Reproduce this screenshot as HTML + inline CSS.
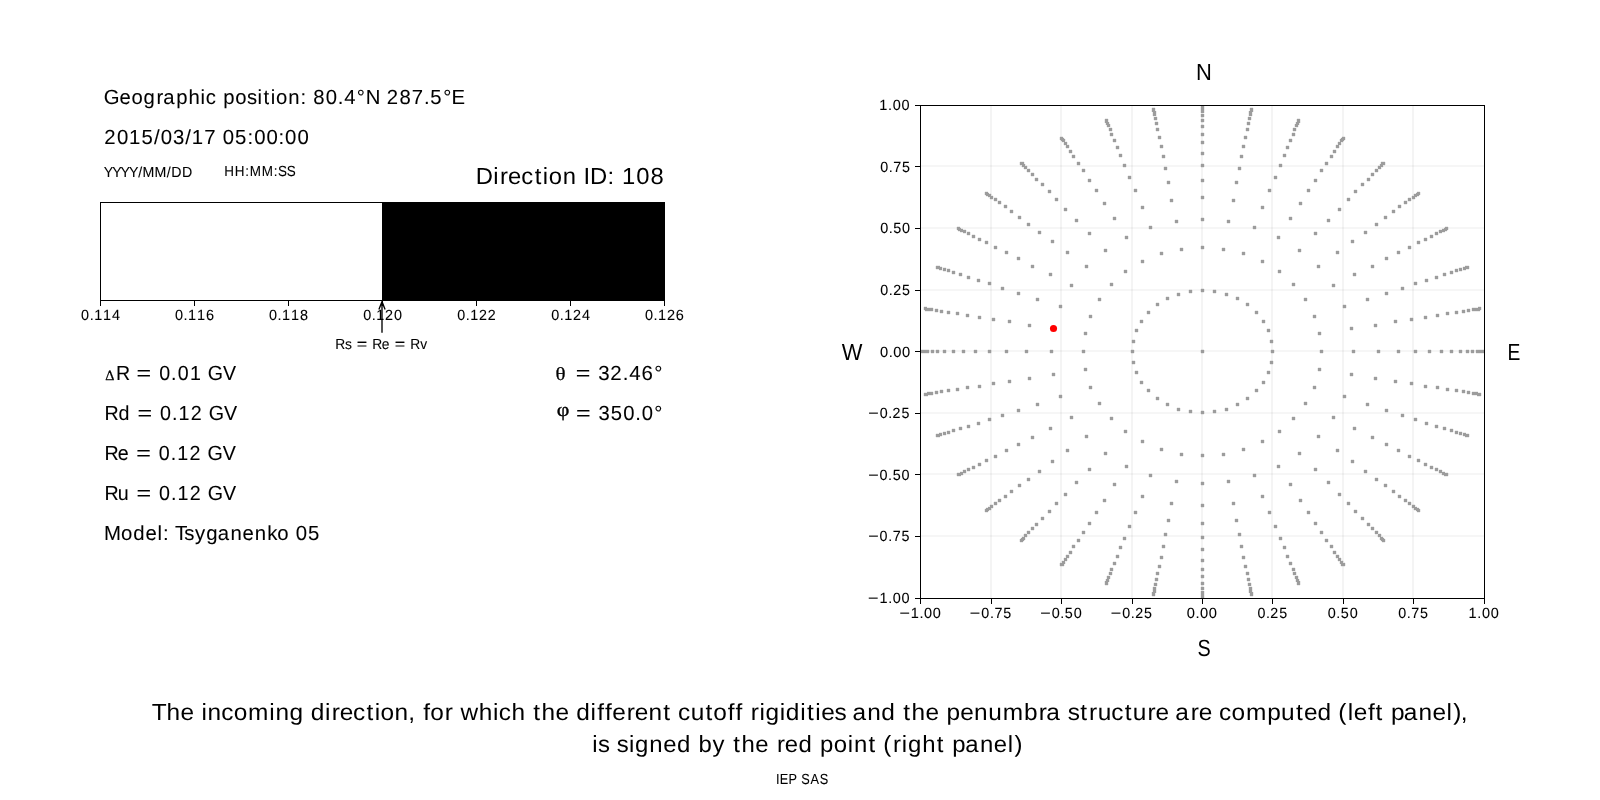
<!DOCTYPE html>
<html><head><meta charset="utf-8"><title>Direction 108</title>
<style>
html,body{margin:0;padding:0;background:#fff;overflow:hidden}
svg{display:block;will-change:transform}
text{font-family:"Liberation Sans",sans-serif;fill:#000;white-space:pre;text-rendering:geometricPrecision}
.ser{font-family:"Liberation Serif",serif}
</style></head><body>
<svg width="1600" height="800" viewBox="0 0 1600 800">
<rect width="1600" height="800" fill="#fff"/>
<g shape-rendering="crispEdges">
<rect x="382" y="202" width="283" height="99" fill="#000"/>
<path d="M100 202h565v1h-565zM100 300h565v1h-565zM100 202h1v99h-1zM664 202h1v99h-1z" fill="#000"/>
<path d="M100 301h1v5h-1zM194 301h1v5h-1zM288 301h1v5h-1zM382 301h1v5h-1zM476 301h1v5h-1zM570 301h1v5h-1zM664 301h1v5h-1z" fill="#000"/>
</g>
<path d="M382 332.7V302.2M378.9 309.6L382 301.7L385.1 309.6" fill="none" stroke="#000" stroke-width="1.35"/>
<g shape-rendering="crispEdges">
<path d="M990 105h2v493h-2zM1060 105h2v493h-2zM1131 105h2v493h-2zM1201 105h2v493h-2zM1271 105h2v493h-2zM1342 105h2v493h-2zM1412 105h2v493h-2z" fill="#000" fill-opacity="0.042"/>
<path d="M920 535h564v2h-564zM920 473h564v2h-564zM920 412h564v2h-564zM920 350h564v2h-564zM920 289h564v2h-564zM920 227h564v2h-564zM920 165h564v2h-564z" fill="#000" fill-opacity="0.035"/>
<clipPath id="c"><rect x="920" y="105" width="565" height="494"/></clipPath>
<g clip-path="url(#c)"><path d="M919 349h3v5h-3zM918 350h5v3h-5zM920 349h3v5h-3zM919 350h5v3h-5zM923 349h3v5h-3zM922 350h5v3h-5zM924 306h3v5h-3zM923 307h5v3h-5zM924 392h3v5h-3zM923 393h5v3h-5zM925 307h3v5h-3zM924 308h5v3h-5zM925 392h3v5h-3zM924 393h5v3h-5zM926 349h3v5h-3zM925 350h5v3h-5zM927 307h3v5h-3zM926 308h5v3h-5zM927 391h3v5h-3zM926 392h5v3h-5zM930 307h3v5h-3zM929 308h5v3h-5zM930 391h3v5h-3zM929 392h5v3h-5zM931 349h3v5h-3zM930 350h5v3h-5zM935 308h3v5h-3zM934 309h5v3h-5zM935 390h3v5h-3zM934 391h5v3h-5zM936 265h3v5h-3zM935 266h5v3h-5zM936 349h3v5h-3zM935 350h5v3h-5zM936 433h3v5h-3zM935 434h5v3h-5zM937 265h3v5h-3zM936 266h5v3h-5zM937 433h3v5h-3zM936 434h5v3h-5zM939 266h3v5h-3zM938 267h5v3h-5zM939 432h3v5h-3zM938 433h5v3h-5zM940 309h3v5h-3zM939 310h5v3h-5zM940 389h3v5h-3zM939 390h5v3h-5zM943 267h3v5h-3zM942 268h5v3h-5zM943 349h3v5h-3zM942 350h5v3h-5zM943 431h3v5h-3zM942 432h5v3h-5zM947 268h3v5h-3zM946 269h5v3h-5zM947 310h3v5h-3zM946 311h5v3h-5zM947 388h3v5h-3zM946 389h5v3h-5zM947 430h3v5h-3zM946 431h5v3h-5zM952 270h3v5h-3zM951 271h5v3h-5zM952 349h3v5h-3zM951 350h5v3h-5zM952 428h3v5h-3zM951 429h5v3h-5zM956 311h3v5h-3zM955 312h5v3h-5zM956 387h3v5h-3zM955 388h5v3h-5zM957 226h3v5h-3zM956 227h5v3h-5zM957 472h3v5h-3zM956 473h5v3h-5zM958 227h3v5h-3zM957 228h5v3h-5zM958 472h3v5h-3zM957 473h5v3h-5zM959 272h3v5h-3zM958 273h5v3h-5zM959 426h3v5h-3zM958 427h5v3h-5zM960 228h3v5h-3zM959 229h5v3h-5zM960 471h3v5h-3zM959 472h5v3h-5zM962 349h3v5h-3zM961 350h5v3h-5zM963 229h3v5h-3zM962 230h5v3h-5zM963 469h3v5h-3zM962 470h5v3h-5zM966 313h3v5h-3zM965 314h5v3h-5zM966 385h3v5h-3zM965 386h5v3h-5zM967 231h3v5h-3zM966 232h5v3h-5zM967 275h3v5h-3zM966 276h5v3h-5zM967 424h3v5h-3zM966 425h5v3h-5zM967 467h3v5h-3zM966 468h5v3h-5zM972 234h3v5h-3zM971 235h5v3h-5zM972 465h3v5h-3zM971 466h5v3h-5zM974 349h3v5h-3zM973 350h5v3h-5zM977 278h3v5h-3zM976 279h5v3h-5zM977 421h3v5h-3zM976 422h5v3h-5zM978 237h3v5h-3zM977 238h5v3h-5zM978 315h3v5h-3zM977 316h5v3h-5zM978 384h3v5h-3zM977 385h5v3h-5zM978 462h3v5h-3zM977 463h5v3h-5zM985 191h3v5h-3zM984 192h5v3h-5zM985 240h3v5h-3zM984 241h5v3h-5zM985 458h3v5h-3zM984 459h5v3h-5zM985 508h3v5h-3zM984 509h5v3h-5zM986 192h3v5h-3zM985 193h5v3h-5zM986 507h3v5h-3zM985 508h5v3h-5zM988 193h3v5h-3zM987 194h5v3h-5zM988 281h3v5h-3zM987 282h5v3h-5zM988 349h3v5h-3zM987 350h5v3h-5zM988 417h3v5h-3zM987 418h5v3h-5zM988 506h3v5h-3zM987 507h5v3h-5zM990 195h3v5h-3zM989 196h5v3h-5zM990 504h3v5h-3zM989 505h5v3h-5zM992 317h3v5h-3zM991 318h5v3h-5zM992 381h3v5h-3zM991 382h5v3h-5zM994 197h3v5h-3zM993 198h5v3h-5zM994 245h3v5h-3zM993 246h5v3h-5zM994 454h3v5h-3zM993 455h5v3h-5zM994 501h3v5h-3zM993 502h5v3h-5zM998 200h3v5h-3zM997 201h5v3h-5zM998 498h3v5h-3zM997 499h5v3h-5zM1001 286h3v5h-3zM1000 287h5v3h-5zM1001 413h3v5h-3zM1000 414h5v3h-5zM1004 204h3v5h-3zM1003 205h5v3h-5zM1004 494h3v5h-3zM1003 495h5v3h-5zM1005 250h3v5h-3zM1004 251h5v3h-5zM1005 349h3v5h-3zM1004 350h5v3h-5zM1005 448h3v5h-3zM1004 449h5v3h-5zM1008 319h3v5h-3zM1007 320h5v3h-5zM1008 379h3v5h-3zM1007 380h5v3h-5zM1010 209h3v5h-3zM1009 210h5v3h-5zM1010 489h3v5h-3zM1009 490h5v3h-5zM1017 256h3v5h-3zM1016 257h5v3h-5zM1017 291h3v5h-3zM1016 292h5v3h-5zM1017 408h3v5h-3zM1016 409h5v3h-5zM1017 442h3v5h-3zM1016 443h5v3h-5zM1018 215h3v5h-3zM1017 216h5v3h-5zM1018 483h3v5h-3zM1017 484h5v3h-5zM1020 161h3v5h-3zM1019 162h5v3h-5zM1020 538h3v5h-3zM1019 539h5v3h-5zM1021 161h3v5h-3zM1020 162h5v3h-5zM1021 537h3v5h-3zM1020 538h5v3h-5zM1022 163h3v5h-3zM1021 164h5v3h-5zM1022 536h3v5h-3zM1021 537h5v3h-5zM1024 165h3v5h-3zM1023 166h5v3h-5zM1024 533h3v5h-3zM1023 534h5v3h-5zM1025 349h3v5h-3zM1024 350h5v3h-5zM1027 168h3v5h-3zM1026 169h5v3h-5zM1027 222h3v5h-3zM1026 223h5v3h-5zM1027 477h3v5h-3zM1026 478h5v3h-5zM1027 530h3v5h-3zM1026 531h5v3h-5zM1028 323h3v5h-3zM1027 324h5v3h-5zM1028 376h3v5h-3zM1027 377h5v3h-5zM1031 172h3v5h-3zM1030 173h5v3h-5zM1031 264h3v5h-3zM1030 265h5v3h-5zM1031 435h3v5h-3zM1030 436h5v3h-5zM1031 526h3v5h-3zM1030 527h5v3h-5zM1035 177h3v5h-3zM1034 178h5v3h-5zM1035 522h3v5h-3zM1034 523h5v3h-5zM1036 297h3v5h-3zM1035 298h5v3h-5zM1036 402h3v5h-3zM1035 403h5v3h-5zM1038 230h3v5h-3zM1037 231h5v3h-5zM1038 469h3v5h-3zM1037 470h5v3h-5zM1041 182h3v5h-3zM1040 183h5v3h-5zM1041 516h3v5h-3zM1040 517h5v3h-5zM1048 189h3v5h-3zM1047 190h5v3h-5zM1048 509h3v5h-3zM1047 510h5v3h-5zM1049 272h3v5h-3zM1048 273h5v3h-5zM1049 426h3v5h-3zM1048 427h5v3h-5zM1050 349h3v5h-3zM1049 350h5v3h-5zM1051 239h3v5h-3zM1050 240h5v3h-5zM1051 459h3v5h-3zM1050 460h5v3h-5zM1052 326h3v5h-3zM1051 327h5v3h-5zM1052 372h3v5h-3zM1051 373h5v3h-5zM1055 197h3v5h-3zM1054 198h5v3h-5zM1055 501h3v5h-3zM1054 502h5v3h-5zM1059 304h3v5h-3zM1058 305h5v3h-5zM1059 394h3v5h-3zM1058 395h5v3h-5zM1060 136h3v5h-3zM1059 137h5v3h-5zM1060 562h3v5h-3zM1059 563h5v3h-5zM1061 137h3v5h-3zM1060 138h5v3h-5zM1061 562h3v5h-3zM1060 563h5v3h-5zM1062 138h3v5h-3zM1061 139h5v3h-5zM1062 560h3v5h-3zM1061 561h5v3h-5zM1064 141h3v5h-3zM1063 142h5v3h-5zM1064 207h3v5h-3zM1063 208h5v3h-5zM1064 492h3v5h-3zM1063 493h5v3h-5zM1064 557h3v5h-3zM1063 558h5v3h-5zM1066 144h3v5h-3zM1065 145h5v3h-5zM1066 250h3v5h-3zM1065 251h5v3h-5zM1066 448h3v5h-3zM1065 449h5v3h-5zM1066 554h3v5h-3zM1065 555h5v3h-5zM1069 149h3v5h-3zM1068 150h5v3h-5zM1069 550h3v5h-3zM1068 551h5v3h-5zM1070 283h3v5h-3zM1069 284h5v3h-5zM1070 415h3v5h-3zM1069 416h5v3h-5zM1072 154h3v5h-3zM1071 155h5v3h-5zM1072 544h3v5h-3zM1071 545h5v3h-5zM1075 218h3v5h-3zM1074 219h5v3h-5zM1075 480h3v5h-3zM1074 481h5v3h-5zM1077 161h3v5h-3zM1076 162h5v3h-5zM1077 538h3v5h-3zM1076 539h5v3h-5zM1082 168h3v5h-3zM1081 169h5v3h-5zM1082 349h3v5h-3zM1081 350h5v3h-5zM1082 530h3v5h-3zM1081 531h5v3h-5zM1084 331h3v5h-3zM1083 332h5v3h-5zM1084 367h3v5h-3zM1083 368h5v3h-5zM1085 264h3v5h-3zM1084 265h5v3h-5zM1085 434h3v5h-3zM1084 435h5v3h-5zM1088 178h3v5h-3zM1087 179h5v3h-5zM1088 231h3v5h-3zM1087 232h5v3h-5zM1088 467h3v5h-3zM1087 468h5v3h-5zM1088 521h3v5h-3zM1087 522h5v3h-5zM1089 314h3v5h-3zM1088 315h5v3h-5zM1089 385h3v5h-3zM1088 386h5v3h-5zM1095 188h3v5h-3zM1094 189h5v3h-5zM1095 510h3v5h-3zM1094 511h5v3h-5zM1098 297h3v5h-3zM1097 298h5v3h-5zM1098 401h3v5h-3zM1097 402h5v3h-5zM1103 201h3v5h-3zM1102 202h5v3h-5zM1103 498h3v5h-3zM1102 499h5v3h-5zM1104 248h3v5h-3zM1103 249h5v3h-5zM1104 451h3v5h-3zM1103 452h5v3h-5zM1105 118h3v5h-3zM1104 119h5v3h-5zM1105 119h3v5h-3zM1104 120h5v3h-5zM1105 580h3v5h-3zM1104 581h5v3h-5zM1105 581h3v5h-3zM1104 582h5v3h-5zM1106 121h3v5h-3zM1105 122h5v3h-5zM1106 578h3v5h-3zM1105 579h5v3h-5zM1107 123h3v5h-3zM1106 124h5v3h-5zM1107 575h3v5h-3zM1106 576h5v3h-5zM1109 127h3v5h-3zM1108 128h5v3h-5zM1109 571h3v5h-3zM1108 572h5v3h-5zM1110 132h3v5h-3zM1109 133h5v3h-5zM1110 282h3v5h-3zM1109 283h5v3h-5zM1110 416h3v5h-3zM1109 417h5v3h-5zM1110 567h3v5h-3zM1109 568h5v3h-5zM1113 138h3v5h-3zM1112 139h5v3h-5zM1113 216h3v5h-3zM1112 217h5v3h-5zM1113 482h3v5h-3zM1112 483h5v3h-5zM1113 561h3v5h-3zM1112 562h5v3h-5zM1116 145h3v5h-3zM1115 146h5v3h-5zM1116 554h3v5h-3zM1115 555h5v3h-5zM1119 153h3v5h-3zM1118 154h5v3h-5zM1119 545h3v5h-3zM1118 546h5v3h-5zM1123 163h3v5h-3zM1122 164h5v3h-5zM1123 536h3v5h-3zM1122 537h5v3h-5zM1124 269h3v5h-3zM1123 270h5v3h-5zM1124 429h3v5h-3zM1123 430h5v3h-5zM1125 235h3v5h-3zM1124 236h5v3h-5zM1125 464h3v5h-3zM1124 465h5v3h-5zM1128 175h3v5h-3zM1127 176h5v3h-5zM1128 524h3v5h-3zM1127 525h5v3h-5zM1131 349h3v5h-3zM1130 350h5v3h-5zM1132 339h3v5h-3zM1131 340h5v3h-5zM1132 360h3v5h-3zM1131 361h5v3h-5zM1134 188h3v5h-3zM1133 189h5v3h-5zM1134 510h3v5h-3zM1133 511h5v3h-5zM1135 328h3v5h-3zM1134 329h5v3h-5zM1135 370h3v5h-3zM1134 371h5v3h-5zM1140 319h3v5h-3zM1139 320h5v3h-5zM1140 380h3v5h-3zM1139 381h5v3h-5zM1141 205h3v5h-3zM1140 206h5v3h-5zM1141 259h3v5h-3zM1140 260h5v3h-5zM1141 439h3v5h-3zM1140 440h5v3h-5zM1141 494h3v5h-3zM1140 495h5v3h-5zM1147 310h3v5h-3zM1146 311h5v3h-5zM1147 388h3v5h-3zM1146 389h5v3h-5zM1149 225h3v5h-3zM1148 226h5v3h-5zM1149 473h3v5h-3zM1148 474h5v3h-5zM1152 107h3v5h-3zM1151 108h5v3h-5zM1152 108h3v5h-3zM1151 109h5v3h-5zM1152 591h3v5h-3zM1151 592h5v3h-5zM1152 592h3v5h-3zM1151 593h5v3h-5zM1153 110h3v5h-3zM1152 111h5v3h-5zM1153 112h3v5h-3zM1152 113h5v3h-5zM1153 586h3v5h-3zM1152 587h5v3h-5zM1153 589h3v5h-3zM1152 590h5v3h-5zM1154 116h3v5h-3zM1153 117h5v3h-5zM1154 582h3v5h-3zM1153 583h5v3h-5zM1155 121h3v5h-3zM1154 122h5v3h-5zM1155 577h3v5h-3zM1154 578h5v3h-5zM1156 127h3v5h-3zM1155 128h5v3h-5zM1156 302h3v5h-3zM1155 303h5v3h-5zM1156 396h3v5h-3zM1155 397h5v3h-5zM1156 571h3v5h-3zM1155 572h5v3h-5zM1158 135h3v5h-3zM1157 136h5v3h-5zM1158 564h3v5h-3zM1157 565h5v3h-5zM1160 144h3v5h-3zM1159 145h5v3h-5zM1160 251h3v5h-3zM1159 252h5v3h-5zM1160 447h3v5h-3zM1159 448h5v3h-5zM1160 555h3v5h-3zM1159 556h5v3h-5zM1162 154h3v5h-3zM1161 155h5v3h-5zM1162 544h3v5h-3zM1161 545h5v3h-5zM1164 166h3v5h-3zM1163 167h5v3h-5zM1164 532h3v5h-3zM1163 533h5v3h-5zM1166 296h3v5h-3zM1165 297h5v3h-5zM1166 402h3v5h-3zM1165 403h5v3h-5zM1167 180h3v5h-3zM1166 181h5v3h-5zM1167 518h3v5h-3zM1166 519h5v3h-5zM1170 198h3v5h-3zM1169 199h5v3h-5zM1170 501h3v5h-3zM1169 502h5v3h-5zM1175 219h3v5h-3zM1174 220h5v3h-5zM1175 479h3v5h-3zM1174 480h5v3h-5zM1177 292h3v5h-3zM1176 293h5v3h-5zM1177 407h3v5h-3zM1176 408h5v3h-5zM1180 247h3v5h-3zM1179 248h5v3h-5zM1180 452h3v5h-3zM1179 453h5v3h-5zM1189 289h3v5h-3zM1188 290h5v3h-5zM1189 409h3v5h-3zM1188 410h5v3h-5zM1201 103h3v5h-3zM1200 104h5v3h-5zM1201 104h3v5h-3zM1200 105h5v3h-5zM1201 106h3v5h-3zM1200 107h5v3h-5zM1201 109h3v5h-3zM1200 110h5v3h-5zM1201 113h3v5h-3zM1200 114h5v3h-5zM1201 118h3v5h-3zM1200 119h5v3h-5zM1201 124h3v5h-3zM1200 125h5v3h-5zM1201 132h3v5h-3zM1200 133h5v3h-5zM1201 140h3v5h-3zM1200 141h5v3h-5zM1201 151h3v5h-3zM1200 152h5v3h-5zM1201 163h3v5h-3zM1200 164h5v3h-5zM1201 178h3v5h-3zM1200 179h5v3h-5zM1201 195h3v5h-3zM1200 196h5v3h-5zM1201 217h3v5h-3zM1200 218h5v3h-5zM1201 245h3v5h-3zM1200 246h5v3h-5zM1201 288h3v5h-3zM1200 289h5v3h-5zM1201 349h3v5h-3zM1200 350h5v3h-5zM1201 410h3v5h-3zM1200 411h5v3h-5zM1201 453h3v5h-3zM1200 454h5v3h-5zM1201 481h3v5h-3zM1200 482h5v3h-5zM1201 503h3v5h-3zM1200 504h5v3h-5zM1201 521h3v5h-3zM1200 522h5v3h-5zM1201 535h3v5h-3zM1200 536h5v3h-5zM1201 547h3v5h-3zM1200 548h5v3h-5zM1201 558h3v5h-3zM1200 559h5v3h-5zM1201 567h3v5h-3zM1200 568h5v3h-5zM1201 574h3v5h-3zM1200 575h5v3h-5zM1201 581h3v5h-3zM1200 582h5v3h-5zM1201 586h3v5h-3zM1200 587h5v3h-5zM1201 590h3v5h-3zM1200 591h5v3h-5zM1201 593h3v5h-3zM1200 594h5v3h-5zM1201 595h3v5h-3zM1200 596h5v3h-5zM1213 289h3v5h-3zM1212 290h5v3h-5zM1213 409h3v5h-3zM1212 410h5v3h-5zM1222 247h3v5h-3zM1221 248h5v3h-5zM1222 452h3v5h-3zM1221 453h5v3h-5zM1225 292h3v5h-3zM1224 293h5v3h-5zM1225 407h3v5h-3zM1224 408h5v3h-5zM1227 219h3v5h-3zM1226 220h5v3h-5zM1227 479h3v5h-3zM1226 480h5v3h-5zM1232 198h3v5h-3zM1231 199h5v3h-5zM1232 501h3v5h-3zM1231 502h5v3h-5zM1235 180h3v5h-3zM1234 181h5v3h-5zM1235 518h3v5h-3zM1234 519h5v3h-5zM1236 296h3v5h-3zM1235 297h5v3h-5zM1236 402h3v5h-3zM1235 403h5v3h-5zM1238 166h3v5h-3zM1237 167h5v3h-5zM1238 532h3v5h-3zM1237 533h5v3h-5zM1240 154h3v5h-3zM1239 155h5v3h-5zM1240 544h3v5h-3zM1239 545h5v3h-5zM1242 144h3v5h-3zM1241 145h5v3h-5zM1242 251h3v5h-3zM1241 252h5v3h-5zM1242 447h3v5h-3zM1241 448h5v3h-5zM1242 555h3v5h-3zM1241 556h5v3h-5zM1244 135h3v5h-3zM1243 136h5v3h-5zM1244 564h3v5h-3zM1243 565h5v3h-5zM1246 127h3v5h-3zM1245 128h5v3h-5zM1246 302h3v5h-3zM1245 303h5v3h-5zM1246 396h3v5h-3zM1245 397h5v3h-5zM1246 571h3v5h-3zM1245 572h5v3h-5zM1247 121h3v5h-3zM1246 122h5v3h-5zM1247 577h3v5h-3zM1246 578h5v3h-5zM1248 116h3v5h-3zM1247 117h5v3h-5zM1248 582h3v5h-3zM1247 583h5v3h-5zM1249 110h3v5h-3zM1248 111h5v3h-5zM1249 112h3v5h-3zM1248 113h5v3h-5zM1249 586h3v5h-3zM1248 587h5v3h-5zM1249 589h3v5h-3zM1248 590h5v3h-5zM1250 107h3v5h-3zM1249 108h5v3h-5zM1250 108h3v5h-3zM1249 109h5v3h-5zM1250 591h3v5h-3zM1249 592h5v3h-5zM1250 592h3v5h-3zM1249 593h5v3h-5zM1253 225h3v5h-3zM1252 226h5v3h-5zM1253 473h3v5h-3zM1252 474h5v3h-5zM1255 310h3v5h-3zM1254 311h5v3h-5zM1255 388h3v5h-3zM1254 389h5v3h-5zM1261 205h3v5h-3zM1260 206h5v3h-5zM1261 259h3v5h-3zM1260 260h5v3h-5zM1261 439h3v5h-3zM1260 440h5v3h-5zM1261 494h3v5h-3zM1260 495h5v3h-5zM1262 319h3v5h-3zM1261 320h5v3h-5zM1262 380h3v5h-3zM1261 381h5v3h-5zM1267 328h3v5h-3zM1266 329h5v3h-5zM1267 370h3v5h-3zM1266 371h5v3h-5zM1268 188h3v5h-3zM1267 189h5v3h-5zM1268 510h3v5h-3zM1267 511h5v3h-5zM1270 339h3v5h-3zM1269 340h5v3h-5zM1270 360h3v5h-3zM1269 361h5v3h-5zM1271 349h3v5h-3zM1270 350h5v3h-5zM1274 175h3v5h-3zM1273 176h5v3h-5zM1274 524h3v5h-3zM1273 525h5v3h-5zM1277 235h3v5h-3zM1276 236h5v3h-5zM1277 464h3v5h-3zM1276 465h5v3h-5zM1278 269h3v5h-3zM1277 270h5v3h-5zM1278 429h3v5h-3zM1277 430h5v3h-5zM1279 163h3v5h-3zM1278 164h5v3h-5zM1279 536h3v5h-3zM1278 537h5v3h-5zM1283 153h3v5h-3zM1282 154h5v3h-5zM1283 545h3v5h-3zM1282 546h5v3h-5zM1286 145h3v5h-3zM1285 146h5v3h-5zM1286 554h3v5h-3zM1285 555h5v3h-5zM1289 138h3v5h-3zM1288 139h5v3h-5zM1289 216h3v5h-3zM1288 217h5v3h-5zM1289 482h3v5h-3zM1288 483h5v3h-5zM1289 561h3v5h-3zM1288 562h5v3h-5zM1292 132h3v5h-3zM1291 133h5v3h-5zM1292 282h3v5h-3zM1291 283h5v3h-5zM1292 416h3v5h-3zM1291 417h5v3h-5zM1292 567h3v5h-3zM1291 568h5v3h-5zM1293 127h3v5h-3zM1292 128h5v3h-5zM1293 571h3v5h-3zM1292 572h5v3h-5zM1295 123h3v5h-3zM1294 124h5v3h-5zM1295 575h3v5h-3zM1294 576h5v3h-5zM1296 121h3v5h-3zM1295 122h5v3h-5zM1296 578h3v5h-3zM1295 579h5v3h-5zM1297 118h3v5h-3zM1296 119h5v3h-5zM1297 119h3v5h-3zM1296 120h5v3h-5zM1297 580h3v5h-3zM1296 581h5v3h-5zM1297 581h3v5h-3zM1296 582h5v3h-5zM1298 248h3v5h-3zM1297 249h5v3h-5zM1298 451h3v5h-3zM1297 452h5v3h-5zM1299 201h3v5h-3zM1298 202h5v3h-5zM1299 498h3v5h-3zM1298 499h5v3h-5zM1304 297h3v5h-3zM1303 298h5v3h-5zM1304 401h3v5h-3zM1303 402h5v3h-5zM1307 188h3v5h-3zM1306 189h5v3h-5zM1307 510h3v5h-3zM1306 511h5v3h-5zM1313 314h3v5h-3zM1312 315h5v3h-5zM1313 385h3v5h-3zM1312 386h5v3h-5zM1314 178h3v5h-3zM1313 179h5v3h-5zM1314 231h3v5h-3zM1313 232h5v3h-5zM1314 467h3v5h-3zM1313 468h5v3h-5zM1314 521h3v5h-3zM1313 522h5v3h-5zM1317 264h3v5h-3zM1316 265h5v3h-5zM1317 434h3v5h-3zM1316 435h5v3h-5zM1318 331h3v5h-3zM1317 332h5v3h-5zM1318 367h3v5h-3zM1317 368h5v3h-5zM1320 168h3v5h-3zM1319 169h5v3h-5zM1320 349h3v5h-3zM1319 350h5v3h-5zM1320 530h3v5h-3zM1319 531h5v3h-5zM1325 161h3v5h-3zM1324 162h5v3h-5zM1325 538h3v5h-3zM1324 539h5v3h-5zM1327 218h3v5h-3zM1326 219h5v3h-5zM1327 480h3v5h-3zM1326 481h5v3h-5zM1330 154h3v5h-3zM1329 155h5v3h-5zM1330 544h3v5h-3zM1329 545h5v3h-5zM1332 283h3v5h-3zM1331 284h5v3h-5zM1332 415h3v5h-3zM1331 416h5v3h-5zM1333 149h3v5h-3zM1332 150h5v3h-5zM1333 550h3v5h-3zM1332 551h5v3h-5zM1336 144h3v5h-3zM1335 145h5v3h-5zM1336 250h3v5h-3zM1335 251h5v3h-5zM1336 448h3v5h-3zM1335 449h5v3h-5zM1336 554h3v5h-3zM1335 555h5v3h-5zM1338 141h3v5h-3zM1337 142h5v3h-5zM1338 207h3v5h-3zM1337 208h5v3h-5zM1338 492h3v5h-3zM1337 493h5v3h-5zM1338 557h3v5h-3zM1337 558h5v3h-5zM1340 138h3v5h-3zM1339 139h5v3h-5zM1340 560h3v5h-3zM1339 561h5v3h-5zM1341 137h3v5h-3zM1340 138h5v3h-5zM1341 562h3v5h-3zM1340 563h5v3h-5zM1342 136h3v5h-3zM1341 137h5v3h-5zM1342 562h3v5h-3zM1341 563h5v3h-5zM1343 304h3v5h-3zM1342 305h5v3h-5zM1343 394h3v5h-3zM1342 395h5v3h-5zM1347 197h3v5h-3zM1346 198h5v3h-5zM1347 501h3v5h-3zM1346 502h5v3h-5zM1350 326h3v5h-3zM1349 327h5v3h-5zM1350 372h3v5h-3zM1349 373h5v3h-5zM1351 239h3v5h-3zM1350 240h5v3h-5zM1351 459h3v5h-3zM1350 460h5v3h-5zM1352 349h3v5h-3zM1351 350h5v3h-5zM1353 272h3v5h-3zM1352 273h5v3h-5zM1353 426h3v5h-3zM1352 427h5v3h-5zM1354 189h3v5h-3zM1353 190h5v3h-5zM1354 509h3v5h-3zM1353 510h5v3h-5zM1361 182h3v5h-3zM1360 183h5v3h-5zM1361 516h3v5h-3zM1360 517h5v3h-5zM1364 230h3v5h-3zM1363 231h5v3h-5zM1364 469h3v5h-3zM1363 470h5v3h-5zM1366 297h3v5h-3zM1365 298h5v3h-5zM1366 402h3v5h-3zM1365 403h5v3h-5zM1367 177h3v5h-3zM1366 178h5v3h-5zM1367 522h3v5h-3zM1366 523h5v3h-5zM1371 172h3v5h-3zM1370 173h5v3h-5zM1371 264h3v5h-3zM1370 265h5v3h-5zM1371 435h3v5h-3zM1370 436h5v3h-5zM1371 526h3v5h-3zM1370 527h5v3h-5zM1374 323h3v5h-3zM1373 324h5v3h-5zM1374 376h3v5h-3zM1373 377h5v3h-5zM1375 168h3v5h-3zM1374 169h5v3h-5zM1375 222h3v5h-3zM1374 223h5v3h-5zM1375 477h3v5h-3zM1374 478h5v3h-5zM1375 530h3v5h-3zM1374 531h5v3h-5zM1377 349h3v5h-3zM1376 350h5v3h-5zM1378 165h3v5h-3zM1377 166h5v3h-5zM1378 533h3v5h-3zM1377 534h5v3h-5zM1380 163h3v5h-3zM1379 164h5v3h-5zM1380 536h3v5h-3zM1379 537h5v3h-5zM1381 161h3v5h-3zM1380 162h5v3h-5zM1381 537h3v5h-3zM1380 538h5v3h-5zM1382 161h3v5h-3zM1381 162h5v3h-5zM1382 538h3v5h-3zM1381 539h5v3h-5zM1384 215h3v5h-3zM1383 216h5v3h-5zM1384 483h3v5h-3zM1383 484h5v3h-5zM1385 256h3v5h-3zM1384 257h5v3h-5zM1385 291h3v5h-3zM1384 292h5v3h-5zM1385 408h3v5h-3zM1384 409h5v3h-5zM1385 442h3v5h-3zM1384 443h5v3h-5zM1392 209h3v5h-3zM1391 210h5v3h-5zM1392 489h3v5h-3zM1391 490h5v3h-5zM1394 319h3v5h-3zM1393 320h5v3h-5zM1394 379h3v5h-3zM1393 380h5v3h-5zM1397 250h3v5h-3zM1396 251h5v3h-5zM1397 349h3v5h-3zM1396 350h5v3h-5zM1397 448h3v5h-3zM1396 449h5v3h-5zM1398 204h3v5h-3zM1397 205h5v3h-5zM1398 494h3v5h-3zM1397 495h5v3h-5zM1401 286h3v5h-3zM1400 287h5v3h-5zM1401 413h3v5h-3zM1400 414h5v3h-5zM1404 200h3v5h-3zM1403 201h5v3h-5zM1404 498h3v5h-3zM1403 499h5v3h-5zM1408 197h3v5h-3zM1407 198h5v3h-5zM1408 245h3v5h-3zM1407 246h5v3h-5zM1408 454h3v5h-3zM1407 455h5v3h-5zM1408 501h3v5h-3zM1407 502h5v3h-5zM1410 317h3v5h-3zM1409 318h5v3h-5zM1410 381h3v5h-3zM1409 382h5v3h-5zM1412 195h3v5h-3zM1411 196h5v3h-5zM1412 504h3v5h-3zM1411 505h5v3h-5zM1414 193h3v5h-3zM1413 194h5v3h-5zM1414 281h3v5h-3zM1413 282h5v3h-5zM1414 349h3v5h-3zM1413 350h5v3h-5zM1414 417h3v5h-3zM1413 418h5v3h-5zM1414 506h3v5h-3zM1413 507h5v3h-5zM1416 192h3v5h-3zM1415 193h5v3h-5zM1416 507h3v5h-3zM1415 508h5v3h-5zM1417 191h3v5h-3zM1416 192h5v3h-5zM1417 240h3v5h-3zM1416 241h5v3h-5zM1417 458h3v5h-3zM1416 459h5v3h-5zM1417 508h3v5h-3zM1416 509h5v3h-5zM1424 237h3v5h-3zM1423 238h5v3h-5zM1424 315h3v5h-3zM1423 316h5v3h-5zM1424 384h3v5h-3zM1423 385h5v3h-5zM1424 462h3v5h-3zM1423 463h5v3h-5zM1425 278h3v5h-3zM1424 279h5v3h-5zM1425 421h3v5h-3zM1424 422h5v3h-5zM1428 349h3v5h-3zM1427 350h5v3h-5zM1430 234h3v5h-3zM1429 235h5v3h-5zM1430 465h3v5h-3zM1429 466h5v3h-5zM1435 231h3v5h-3zM1434 232h5v3h-5zM1435 275h3v5h-3zM1434 276h5v3h-5zM1435 424h3v5h-3zM1434 425h5v3h-5zM1435 467h3v5h-3zM1434 468h5v3h-5zM1436 313h3v5h-3zM1435 314h5v3h-5zM1436 385h3v5h-3zM1435 386h5v3h-5zM1439 229h3v5h-3zM1438 230h5v3h-5zM1439 469h3v5h-3zM1438 470h5v3h-5zM1440 349h3v5h-3zM1439 350h5v3h-5zM1442 228h3v5h-3zM1441 229h5v3h-5zM1442 471h3v5h-3zM1441 472h5v3h-5zM1443 272h3v5h-3zM1442 273h5v3h-5zM1443 426h3v5h-3zM1442 427h5v3h-5zM1444 227h3v5h-3zM1443 228h5v3h-5zM1444 472h3v5h-3zM1443 473h5v3h-5zM1445 226h3v5h-3zM1444 227h5v3h-5zM1445 472h3v5h-3zM1444 473h5v3h-5zM1446 311h3v5h-3zM1445 312h5v3h-5zM1446 387h3v5h-3zM1445 388h5v3h-5zM1450 270h3v5h-3zM1449 271h5v3h-5zM1450 349h3v5h-3zM1449 350h5v3h-5zM1450 428h3v5h-3zM1449 429h5v3h-5zM1455 268h3v5h-3zM1454 269h5v3h-5zM1455 310h3v5h-3zM1454 311h5v3h-5zM1455 388h3v5h-3zM1454 389h5v3h-5zM1455 430h3v5h-3zM1454 431h5v3h-5zM1459 267h3v5h-3zM1458 268h5v3h-5zM1459 349h3v5h-3zM1458 350h5v3h-5zM1459 431h3v5h-3zM1458 432h5v3h-5zM1462 309h3v5h-3zM1461 310h5v3h-5zM1462 389h3v5h-3zM1461 390h5v3h-5zM1463 266h3v5h-3zM1462 267h5v3h-5zM1463 432h3v5h-3zM1462 433h5v3h-5zM1465 265h3v5h-3zM1464 266h5v3h-5zM1465 433h3v5h-3zM1464 434h5v3h-5zM1466 265h3v5h-3zM1465 266h5v3h-5zM1466 349h3v5h-3zM1465 350h5v3h-5zM1466 433h3v5h-3zM1465 434h5v3h-5zM1467 308h3v5h-3zM1466 309h5v3h-5zM1467 390h3v5h-3zM1466 391h5v3h-5zM1471 349h3v5h-3zM1470 350h5v3h-5zM1472 307h3v5h-3zM1471 308h5v3h-5zM1472 391h3v5h-3zM1471 392h5v3h-5zM1475 307h3v5h-3zM1474 308h5v3h-5zM1475 391h3v5h-3zM1474 392h5v3h-5zM1476 349h3v5h-3zM1475 350h5v3h-5zM1477 307h3v5h-3zM1476 308h5v3h-5zM1477 392h3v5h-3zM1476 393h5v3h-5zM1478 306h3v5h-3zM1477 307h5v3h-5zM1478 392h3v5h-3zM1477 393h5v3h-5zM1479 349h3v5h-3zM1478 350h5v3h-5zM1482 349h3v5h-3zM1481 350h5v3h-5zM1483 349h3v5h-3zM1482 350h5v3h-5z" fill="#000" fill-opacity="0.07" fill-rule="nonzero"/><path d="M919 350h3v3h-3zM920 350h3v3h-3zM923 350h3v3h-3zM924 307h3v3h-3zM924 393h3v3h-3zM925 308h3v3h-3zM925 393h3v3h-3zM926 350h3v3h-3zM927 308h3v3h-3zM927 392h3v3h-3zM930 308h3v3h-3zM930 392h3v3h-3zM931 350h3v3h-3zM935 309h3v3h-3zM935 391h3v3h-3zM936 266h3v3h-3zM936 350h3v3h-3zM936 434h3v3h-3zM937 266h3v3h-3zM937 434h3v3h-3zM939 267h3v3h-3zM939 433h3v3h-3zM940 310h3v3h-3zM940 390h3v3h-3zM943 268h3v3h-3zM943 350h3v3h-3zM943 432h3v3h-3zM947 269h3v3h-3zM947 311h3v3h-3zM947 389h3v3h-3zM947 431h3v3h-3zM952 271h3v3h-3zM952 350h3v3h-3zM952 429h3v3h-3zM956 312h3v3h-3zM956 388h3v3h-3zM957 227h3v3h-3zM957 473h3v3h-3zM958 228h3v3h-3zM958 473h3v3h-3zM959 273h3v3h-3zM959 427h3v3h-3zM960 229h3v3h-3zM960 472h3v3h-3zM962 350h3v3h-3zM963 230h3v3h-3zM963 470h3v3h-3zM966 314h3v3h-3zM966 386h3v3h-3zM967 232h3v3h-3zM967 276h3v3h-3zM967 425h3v3h-3zM967 468h3v3h-3zM972 235h3v3h-3zM972 466h3v3h-3zM974 350h3v3h-3zM977 279h3v3h-3zM977 422h3v3h-3zM978 238h3v3h-3zM978 316h3v3h-3zM978 385h3v3h-3zM978 463h3v3h-3zM985 192h3v3h-3zM985 241h3v3h-3zM985 459h3v3h-3zM985 509h3v3h-3zM986 193h3v3h-3zM986 508h3v3h-3zM988 194h3v3h-3zM988 282h3v3h-3zM988 350h3v3h-3zM988 418h3v3h-3zM988 507h3v3h-3zM990 196h3v3h-3zM990 505h3v3h-3zM992 318h3v3h-3zM992 382h3v3h-3zM994 198h3v3h-3zM994 246h3v3h-3zM994 455h3v3h-3zM994 502h3v3h-3zM998 201h3v3h-3zM998 499h3v3h-3zM1001 287h3v3h-3zM1001 414h3v3h-3zM1004 205h3v3h-3zM1004 495h3v3h-3zM1005 251h3v3h-3zM1005 350h3v3h-3zM1005 449h3v3h-3zM1008 320h3v3h-3zM1008 380h3v3h-3zM1010 210h3v3h-3zM1010 490h3v3h-3zM1017 257h3v3h-3zM1017 292h3v3h-3zM1017 409h3v3h-3zM1017 443h3v3h-3zM1018 216h3v3h-3zM1018 484h3v3h-3zM1020 162h3v3h-3zM1020 539h3v3h-3zM1021 162h3v3h-3zM1021 538h3v3h-3zM1022 164h3v3h-3zM1022 537h3v3h-3zM1024 166h3v3h-3zM1024 534h3v3h-3zM1025 350h3v3h-3zM1027 169h3v3h-3zM1027 223h3v3h-3zM1027 478h3v3h-3zM1027 531h3v3h-3zM1028 324h3v3h-3zM1028 377h3v3h-3zM1031 173h3v3h-3zM1031 265h3v3h-3zM1031 436h3v3h-3zM1031 527h3v3h-3zM1035 178h3v3h-3zM1035 523h3v3h-3zM1036 298h3v3h-3zM1036 403h3v3h-3zM1038 231h3v3h-3zM1038 470h3v3h-3zM1041 183h3v3h-3zM1041 517h3v3h-3zM1048 190h3v3h-3zM1048 510h3v3h-3zM1049 273h3v3h-3zM1049 427h3v3h-3zM1050 350h3v3h-3zM1051 240h3v3h-3zM1051 460h3v3h-3zM1052 327h3v3h-3zM1052 373h3v3h-3zM1055 198h3v3h-3zM1055 502h3v3h-3zM1059 305h3v3h-3zM1059 395h3v3h-3zM1060 137h3v3h-3zM1060 563h3v3h-3zM1061 138h3v3h-3zM1061 563h3v3h-3zM1062 139h3v3h-3zM1062 561h3v3h-3zM1064 142h3v3h-3zM1064 208h3v3h-3zM1064 493h3v3h-3zM1064 558h3v3h-3zM1066 145h3v3h-3zM1066 251h3v3h-3zM1066 449h3v3h-3zM1066 555h3v3h-3zM1069 150h3v3h-3zM1069 551h3v3h-3zM1070 284h3v3h-3zM1070 416h3v3h-3zM1072 155h3v3h-3zM1072 545h3v3h-3zM1075 219h3v3h-3zM1075 481h3v3h-3zM1077 162h3v3h-3zM1077 539h3v3h-3zM1082 169h3v3h-3zM1082 350h3v3h-3zM1082 531h3v3h-3zM1084 332h3v3h-3zM1084 368h3v3h-3zM1085 265h3v3h-3zM1085 435h3v3h-3zM1088 179h3v3h-3zM1088 232h3v3h-3zM1088 468h3v3h-3zM1088 522h3v3h-3zM1089 315h3v3h-3zM1089 386h3v3h-3zM1095 189h3v3h-3zM1095 511h3v3h-3zM1098 298h3v3h-3zM1098 402h3v3h-3zM1103 202h3v3h-3zM1103 499h3v3h-3zM1104 249h3v3h-3zM1104 452h3v3h-3zM1105 119h3v3h-3zM1105 120h3v3h-3zM1105 581h3v3h-3zM1105 582h3v3h-3zM1106 122h3v3h-3zM1106 579h3v3h-3zM1107 124h3v3h-3zM1107 576h3v3h-3zM1109 128h3v3h-3zM1109 572h3v3h-3zM1110 133h3v3h-3zM1110 283h3v3h-3zM1110 417h3v3h-3zM1110 568h3v3h-3zM1113 139h3v3h-3zM1113 217h3v3h-3zM1113 483h3v3h-3zM1113 562h3v3h-3zM1116 146h3v3h-3zM1116 555h3v3h-3zM1119 154h3v3h-3zM1119 546h3v3h-3zM1123 164h3v3h-3zM1123 537h3v3h-3zM1124 270h3v3h-3zM1124 430h3v3h-3zM1125 236h3v3h-3zM1125 465h3v3h-3zM1128 176h3v3h-3zM1128 525h3v3h-3zM1131 350h3v3h-3zM1132 340h3v3h-3zM1132 361h3v3h-3zM1134 189h3v3h-3zM1134 511h3v3h-3zM1135 329h3v3h-3zM1135 371h3v3h-3zM1140 320h3v3h-3zM1140 381h3v3h-3zM1141 206h3v3h-3zM1141 260h3v3h-3zM1141 440h3v3h-3zM1141 495h3v3h-3zM1147 311h3v3h-3zM1147 389h3v3h-3zM1149 226h3v3h-3zM1149 474h3v3h-3zM1152 108h3v3h-3zM1152 109h3v3h-3zM1152 592h3v3h-3zM1152 593h3v3h-3zM1153 111h3v3h-3zM1153 113h3v3h-3zM1153 587h3v3h-3zM1153 590h3v3h-3zM1154 117h3v3h-3zM1154 583h3v3h-3zM1155 122h3v3h-3zM1155 578h3v3h-3zM1156 128h3v3h-3zM1156 303h3v3h-3zM1156 397h3v3h-3zM1156 572h3v3h-3zM1158 136h3v3h-3zM1158 565h3v3h-3zM1160 145h3v3h-3zM1160 252h3v3h-3zM1160 448h3v3h-3zM1160 556h3v3h-3zM1162 155h3v3h-3zM1162 545h3v3h-3zM1164 167h3v3h-3zM1164 533h3v3h-3zM1166 297h3v3h-3zM1166 403h3v3h-3zM1167 181h3v3h-3zM1167 519h3v3h-3zM1170 199h3v3h-3zM1170 502h3v3h-3zM1175 220h3v3h-3zM1175 480h3v3h-3zM1177 293h3v3h-3zM1177 408h3v3h-3zM1180 248h3v3h-3zM1180 453h3v3h-3zM1189 290h3v3h-3zM1189 410h3v3h-3zM1201 104h3v3h-3zM1201 105h3v3h-3zM1201 107h3v3h-3zM1201 110h3v3h-3zM1201 114h3v3h-3zM1201 119h3v3h-3zM1201 125h3v3h-3zM1201 133h3v3h-3zM1201 141h3v3h-3zM1201 152h3v3h-3zM1201 164h3v3h-3zM1201 179h3v3h-3zM1201 196h3v3h-3zM1201 218h3v3h-3zM1201 246h3v3h-3zM1201 289h3v3h-3zM1201 350h3v3h-3zM1201 411h3v3h-3zM1201 454h3v3h-3zM1201 482h3v3h-3zM1201 504h3v3h-3zM1201 522h3v3h-3zM1201 536h3v3h-3zM1201 548h3v3h-3zM1201 559h3v3h-3zM1201 568h3v3h-3zM1201 575h3v3h-3zM1201 582h3v3h-3zM1201 587h3v3h-3zM1201 591h3v3h-3zM1201 594h3v3h-3zM1201 596h3v3h-3zM1213 290h3v3h-3zM1213 410h3v3h-3zM1222 248h3v3h-3zM1222 453h3v3h-3zM1225 293h3v3h-3zM1225 408h3v3h-3zM1227 220h3v3h-3zM1227 480h3v3h-3zM1232 199h3v3h-3zM1232 502h3v3h-3zM1235 181h3v3h-3zM1235 519h3v3h-3zM1236 297h3v3h-3zM1236 403h3v3h-3zM1238 167h3v3h-3zM1238 533h3v3h-3zM1240 155h3v3h-3zM1240 545h3v3h-3zM1242 145h3v3h-3zM1242 252h3v3h-3zM1242 448h3v3h-3zM1242 556h3v3h-3zM1244 136h3v3h-3zM1244 565h3v3h-3zM1246 128h3v3h-3zM1246 303h3v3h-3zM1246 397h3v3h-3zM1246 572h3v3h-3zM1247 122h3v3h-3zM1247 578h3v3h-3zM1248 117h3v3h-3zM1248 583h3v3h-3zM1249 111h3v3h-3zM1249 113h3v3h-3zM1249 587h3v3h-3zM1249 590h3v3h-3zM1250 108h3v3h-3zM1250 109h3v3h-3zM1250 592h3v3h-3zM1250 593h3v3h-3zM1253 226h3v3h-3zM1253 474h3v3h-3zM1255 311h3v3h-3zM1255 389h3v3h-3zM1261 206h3v3h-3zM1261 260h3v3h-3zM1261 440h3v3h-3zM1261 495h3v3h-3zM1262 320h3v3h-3zM1262 381h3v3h-3zM1267 329h3v3h-3zM1267 371h3v3h-3zM1268 189h3v3h-3zM1268 511h3v3h-3zM1270 340h3v3h-3zM1270 361h3v3h-3zM1271 350h3v3h-3zM1274 176h3v3h-3zM1274 525h3v3h-3zM1277 236h3v3h-3zM1277 465h3v3h-3zM1278 270h3v3h-3zM1278 430h3v3h-3zM1279 164h3v3h-3zM1279 537h3v3h-3zM1283 154h3v3h-3zM1283 546h3v3h-3zM1286 146h3v3h-3zM1286 555h3v3h-3zM1289 139h3v3h-3zM1289 217h3v3h-3zM1289 483h3v3h-3zM1289 562h3v3h-3zM1292 133h3v3h-3zM1292 283h3v3h-3zM1292 417h3v3h-3zM1292 568h3v3h-3zM1293 128h3v3h-3zM1293 572h3v3h-3zM1295 124h3v3h-3zM1295 576h3v3h-3zM1296 122h3v3h-3zM1296 579h3v3h-3zM1297 119h3v3h-3zM1297 120h3v3h-3zM1297 581h3v3h-3zM1297 582h3v3h-3zM1298 249h3v3h-3zM1298 452h3v3h-3zM1299 202h3v3h-3zM1299 499h3v3h-3zM1304 298h3v3h-3zM1304 402h3v3h-3zM1307 189h3v3h-3zM1307 511h3v3h-3zM1313 315h3v3h-3zM1313 386h3v3h-3zM1314 179h3v3h-3zM1314 232h3v3h-3zM1314 468h3v3h-3zM1314 522h3v3h-3zM1317 265h3v3h-3zM1317 435h3v3h-3zM1318 332h3v3h-3zM1318 368h3v3h-3zM1320 169h3v3h-3zM1320 350h3v3h-3zM1320 531h3v3h-3zM1325 162h3v3h-3zM1325 539h3v3h-3zM1327 219h3v3h-3zM1327 481h3v3h-3zM1330 155h3v3h-3zM1330 545h3v3h-3zM1332 284h3v3h-3zM1332 416h3v3h-3zM1333 150h3v3h-3zM1333 551h3v3h-3zM1336 145h3v3h-3zM1336 251h3v3h-3zM1336 449h3v3h-3zM1336 555h3v3h-3zM1338 142h3v3h-3zM1338 208h3v3h-3zM1338 493h3v3h-3zM1338 558h3v3h-3zM1340 139h3v3h-3zM1340 561h3v3h-3zM1341 138h3v3h-3zM1341 563h3v3h-3zM1342 137h3v3h-3zM1342 563h3v3h-3zM1343 305h3v3h-3zM1343 395h3v3h-3zM1347 198h3v3h-3zM1347 502h3v3h-3zM1350 327h3v3h-3zM1350 373h3v3h-3zM1351 240h3v3h-3zM1351 460h3v3h-3zM1352 350h3v3h-3zM1353 273h3v3h-3zM1353 427h3v3h-3zM1354 190h3v3h-3zM1354 510h3v3h-3zM1361 183h3v3h-3zM1361 517h3v3h-3zM1364 231h3v3h-3zM1364 470h3v3h-3zM1366 298h3v3h-3zM1366 403h3v3h-3zM1367 178h3v3h-3zM1367 523h3v3h-3zM1371 173h3v3h-3zM1371 265h3v3h-3zM1371 436h3v3h-3zM1371 527h3v3h-3zM1374 324h3v3h-3zM1374 377h3v3h-3zM1375 169h3v3h-3zM1375 223h3v3h-3zM1375 478h3v3h-3zM1375 531h3v3h-3zM1377 350h3v3h-3zM1378 166h3v3h-3zM1378 534h3v3h-3zM1380 164h3v3h-3zM1380 537h3v3h-3zM1381 162h3v3h-3zM1381 538h3v3h-3zM1382 162h3v3h-3zM1382 539h3v3h-3zM1384 216h3v3h-3zM1384 484h3v3h-3zM1385 257h3v3h-3zM1385 292h3v3h-3zM1385 409h3v3h-3zM1385 443h3v3h-3zM1392 210h3v3h-3zM1392 490h3v3h-3zM1394 320h3v3h-3zM1394 380h3v3h-3zM1397 251h3v3h-3zM1397 350h3v3h-3zM1397 449h3v3h-3zM1398 205h3v3h-3zM1398 495h3v3h-3zM1401 287h3v3h-3zM1401 414h3v3h-3zM1404 201h3v3h-3zM1404 499h3v3h-3zM1408 198h3v3h-3zM1408 246h3v3h-3zM1408 455h3v3h-3zM1408 502h3v3h-3zM1410 318h3v3h-3zM1410 382h3v3h-3zM1412 196h3v3h-3zM1412 505h3v3h-3zM1414 194h3v3h-3zM1414 282h3v3h-3zM1414 350h3v3h-3zM1414 418h3v3h-3zM1414 507h3v3h-3zM1416 193h3v3h-3zM1416 508h3v3h-3zM1417 192h3v3h-3zM1417 241h3v3h-3zM1417 459h3v3h-3zM1417 509h3v3h-3zM1424 238h3v3h-3zM1424 316h3v3h-3zM1424 385h3v3h-3zM1424 463h3v3h-3zM1425 279h3v3h-3zM1425 422h3v3h-3zM1428 350h3v3h-3zM1430 235h3v3h-3zM1430 466h3v3h-3zM1435 232h3v3h-3zM1435 276h3v3h-3zM1435 425h3v3h-3zM1435 468h3v3h-3zM1436 314h3v3h-3zM1436 386h3v3h-3zM1439 230h3v3h-3zM1439 470h3v3h-3zM1440 350h3v3h-3zM1442 229h3v3h-3zM1442 472h3v3h-3zM1443 273h3v3h-3zM1443 427h3v3h-3zM1444 228h3v3h-3zM1444 473h3v3h-3zM1445 227h3v3h-3zM1445 473h3v3h-3zM1446 312h3v3h-3zM1446 388h3v3h-3zM1450 271h3v3h-3zM1450 350h3v3h-3zM1450 429h3v3h-3zM1455 269h3v3h-3zM1455 311h3v3h-3zM1455 389h3v3h-3zM1455 431h3v3h-3zM1459 268h3v3h-3zM1459 350h3v3h-3zM1459 432h3v3h-3zM1462 310h3v3h-3zM1462 390h3v3h-3zM1463 267h3v3h-3zM1463 433h3v3h-3zM1465 266h3v3h-3zM1465 434h3v3h-3zM1466 266h3v3h-3zM1466 350h3v3h-3zM1466 434h3v3h-3zM1467 309h3v3h-3zM1467 391h3v3h-3zM1471 350h3v3h-3zM1472 308h3v3h-3zM1472 392h3v3h-3zM1475 308h3v3h-3zM1475 392h3v3h-3zM1476 350h3v3h-3zM1477 308h3v3h-3zM1477 393h3v3h-3zM1478 307h3v3h-3zM1478 393h3v3h-3zM1479 350h3v3h-3zM1482 350h3v3h-3zM1483 350h3v3h-3z" fill="#9c9c9c"/></g>
<path d="M920 105h565v1h-565zM920 598h565v1h-565zM920 105h1v494h-1zM1484 105h1v494h-1z" fill="#000"/>
<path d="M920 599h1v5h-1zM991 599h1v5h-1zM1061 599h1v5h-1zM1132 599h1v5h-1zM1202 599h1v5h-1zM1272 599h1v5h-1zM1343 599h1v5h-1zM1413 599h1v5h-1zM1484 599h1v5h-1zM915 598h5v1h-5zM915 536h5v1h-5zM915 474h5v1h-5zM915 413h5v1h-5zM915 351h5v1h-5zM915 290h5v1h-5zM915 228h5v1h-5zM915 166h5v1h-5zM915 105h5v1h-5z" fill="#000"/>
</g>
<circle cx="1053.5" cy="328.5" r="3.55" fill="#f00"/>
<text transform="scale(0.9939,1)" x="104.28 120.24 132.24 144.42 157.46 164.21 177.24 189.57 201.82 206.93 217.71 224.65 236.76 248.65 259.17 265.19 272.37 277.76 290.09 302.31 308.39 315.22 327.67 339.72 346.28 359.01 367.94 382.59 389.16 401.87 414.29 426.5 432.99 445.91 454.22" y="104" font-size="20.42" stroke="#000" stroke-width="0.07">Geographic position: 80.4°N 287.5°E</text>
<text transform="scale(0.9972,1)" x="104.55 117.22 129.4 141.84 154.37 161.09 173.4 185.71 192.32 204.8 216.72 223.51 235.72 248.26 254.85 267.13 279.35 285.93 298.22" y="144" font-size="20.42" stroke="#000" stroke-width="0.07">2015/03/17 05:00:00</text>
<text transform="scale(0.9733,1)" x="106.66 115.27 123.87 132.48 141.97 146.43 158.75 171.38 176.01 187.05" y="177" font-size="14.58" stroke="#000" stroke-width="0.09">YYYY/MM/DD</text>
<text transform="scale(0.9225,1)" x="243.21 254.46 265.83 270.75 283.76 296.86 301.35 310.84" y="176" font-size="14.58" stroke="#000" stroke-width="0.09">HH:MM:SS</text>
<text transform="scale(1.0208,1)" x="465.94 483.18 489.86 497.68 510.67 523.74 531.79 537.65 551.27 564.65 571.6 577.98 595.21 602.12 609.41 623.37 637.33" y="184" font-size="23.33">Direction ID: 108</text>
<text transform="scale(0.9467,1)" x="354.02 364.38 371.63 376.88 388.53 393.23 403.14 411.64 416.89 428.54 433.24 444.02" y="349" font-size="14.58" stroke="#000" stroke-width="0.09">Rs <tspan textLength="11.04" lengthAdjust="spacingAndGlyphs">=</tspan> Re <tspan textLength="11.04" lengthAdjust="spacingAndGlyphs">=</tspan> Rv</text>
<text transform="scale(0.9609,1)" x="120.72 134.77 142.15 158.45 165.71 178.07 184.96 197.61 209.83 216.22 232.18" y="380" font-size="20.42" stroke="#000" stroke-width="0.07">R <tspan textLength="15.23" lengthAdjust="spacingAndGlyphs">=</tspan> 0.01 GV</text>
<text class="ser" x="105.3" y="380" font-size="14.3" stroke="#000" stroke-width="0.25">Δ</text>
<text transform="scale(0.9651,1)" x="108.25 122.86 135.1 142.44 158.67 165.87 178.19 184.95 197.6 209.96 216.29 232.19" y="420" font-size="20.42" stroke="#000" stroke-width="0.07">Rd <tspan textLength="15.16" lengthAdjust="spacingAndGlyphs">=</tspan> 0.12 GV</text>
<text transform="scale(0.9646,1)" x="108.3 121.98 133.86 141.21 157.44 164.65 176.98 183.73 196.39 208.76 215.1 231" y="460" font-size="20.42" stroke="#000" stroke-width="0.07">Re <tspan textLength="15.17" lengthAdjust="spacingAndGlyphs">=</tspan> 0.12 GV</text>
<text transform="scale(0.9637,1)" x="108.41 122.21 134.25 141.61 157.86 165.08 177.42 184.18 196.85 209.23 215.58 231.49" y="500" font-size="20.42" stroke="#000" stroke-width="0.07">Ru <tspan textLength="15.18" lengthAdjust="spacingAndGlyphs">=</tspan> 0.12 GV</text>
<text transform="scale(0.9983,1)" x="104.08 121.24 133.36 145.73 157.83 163.35 169.41 175.39 184.55 195.24 206.49 218.06 230.93 243.02 255.22 267.65 277.76 289.5 296.27 308.47" y="540" font-size="20.42" stroke="#000" stroke-width="0.07">Model: Tsyganenko 05</text>
<text transform="scale(1.0026,1)" x="574.32 589.94 596.69 608.75 621.1 627.58 639.93 652.55" y="380" font-size="20.42" stroke="#000" stroke-width="0.07"><tspan textLength="14.59" lengthAdjust="spacingAndGlyphs">=</tspan> 32.46°</text>
<text transform="scale(0.9909,1)" x="581.18 596.99 603.88 616.27 628.96 641.03 647.63 660.26" y="420" font-size="20.42" stroke="#000" stroke-width="0.07"><tspan textLength="14.76" lengthAdjust="spacingAndGlyphs">=</tspan> 350.0°</text>
<text class="ser" transform="translate(555.5,380) scale(1.13,1)" x="0" y="0" font-size="18.6" stroke="#000" stroke-width="0.25">θ</text>
<text class="ser" transform="translate(556.7,416) scale(1.13,1)" x="0" y="0" font-size="19.4" stroke="#000" stroke-width="0.35">φ</text>
<text transform="scale(0.9407,1)" x="1271.5" y="80" font-size="23.33">N</text>
<text transform="scale(0.8490,1)" x="1410.51" y="656" font-size="23.33">S</text>
<text transform="scale(0.9390,1)" x="896.35" y="360" font-size="23.33">W</text>
<text transform="scale(0.8254,1)" x="1826.52" y="360" font-size="23.33">E</text>
<text transform="scale(1.0469,1)" x="144.98 159 172.33 185.26 192.43 198.32 211.27 223.24 236.92 257.26 263.15 276.49 289.85 296.79 310.52 316.98 324.56 337.23 350.05 357.92 363.53 376.82 389.94 396.71 404.28 411.05 424.91 432.89 439.94 457.38 470.99 476.33 488.54 501.78 509.45 517.19 530.52 543.45 550.39 564.12 570.48 578 584.85 598.64 606.22 619.43 633.5 641 647.55 659.7 673.86 681.37 695.13 702.65 709.41 717.08 725.42 731.16 744.88 750.62 764.35 770.81 778.67 784.36 797.14 808.4 814.39 828.5 841.84 855.2 862.86 870.61 883.94 896.87 904.04 917.25 930.46 943.87 957.84 978.19 992.17 999.34 1013.16 1019.82 1031.93 1040.29 1048.46 1061.5 1074.32 1082.01 1096.17 1103.75 1116.68 1122.68 1137.36 1144.94 1157.87 1164.42 1176.39 1190.07 1210.42 1223.73 1237.89 1245.48 1258.54 1271.9 1278.37 1287.3 1293 1306.68 1313.95 1321.45 1328.62 1340.94 1355.04 1368.34 1381.62 1388.08 1395.39" y="720" font-size="23.33">The incoming direction, for which the different cutoff rigidities and the penumbra structure are computed (left panel),</text>
<text transform="scale(1.0256,1)" x="577.54 583.17 594.54 601.45 613.25 619.18 633.11 646.68 660.01 673.52 680.98 694.81 707.03 714.93 722.9 736.5 749.57 757.49 765.27 778.6 792.11 799.57 812.97 826.54 832.63 846.92 854.51 861.21 870.84 879.31 885.24 899.14 913.47 921.06 928.52 941.1 955.49 969.05 982.54 989.15" y="752" font-size="23.33">is signed by the red point (right panel)</text>
<text transform="scale(0.8730,1)" x="888.78 893.19 903.29 912.65 917.94 928.55 939.13" y="784" font-size="14.58" stroke="#000" stroke-width="0.09">IEP SAS</text>
<text transform="scale(0.9759,1)" x="83.11 91.85 96.48 105.58 114.74" y="320" font-size="14.72" stroke="#000" stroke-width="0.09">0.114</text>
<text transform="scale(0.9839,1)" x="177.87 186.56 191.13 200.15 209.25" y="320" font-size="14.72" stroke="#000" stroke-width="0.09">0.116</text>
<text transform="scale(0.9782,1)" x="275.03 283.76 288.37 297.44 306.59" y="320" font-size="14.72" stroke="#000" stroke-width="0.09">0.118</text>
<text transform="scale(0.9774,1)" x="371.57 380.3 384.92 393.89 403.03" y="320" font-size="14.72" stroke="#000" stroke-width="0.09">0.120</text>
<text transform="scale(0.9686,1)" x="472 480.79 485.48 494.52 503.55" y="320" font-size="14.72" stroke="#000" stroke-width="0.09">0.122</text>
<text transform="scale(0.9776,1)" x="563.77 572.5 577.12 586.08 595.22" y="320" font-size="14.72" stroke="#000" stroke-width="0.09">0.124</text>
<text transform="scale(0.9856,1)" x="654.5 663.18 667.74 676.63 685.7" y="320" font-size="14.72" stroke="#000" stroke-width="0.09">0.126</text>
<text transform="scale(0.9832,1)" x="914.78 926.32 935.22 939.87 948.77" y="618" font-size="14.72" stroke="#000" stroke-width="0.09"><tspan textLength="10.63" lengthAdjust="spacingAndGlyphs">−</tspan>1.00</text>
<text transform="scale(0.9832,1)" x="882.9 894.45 903.35 908 916.9" y="603" font-size="14.72" stroke="#000" stroke-width="0.09"><tspan textLength="10.63" lengthAdjust="spacingAndGlyphs">−</tspan>1.00</text>
<text transform="scale(0.9719,1)" x="997.92 1009.73 1018.5 1023.2 1032.18" y="618" font-size="14.72" stroke="#000" stroke-width="0.09"><tspan textLength="10.75" lengthAdjust="spacingAndGlyphs">−</tspan>0.75</text>
<text transform="scale(0.9719,1)" x="893.25 905.05 913.83 918.53 927.51" y="541" font-size="14.72" stroke="#000" stroke-width="0.09"><tspan textLength="10.75" lengthAdjust="spacingAndGlyphs">−</tspan>0.75</text>
<text transform="scale(0.9787,1)" x="1062.97 1074.66 1083.38 1088.01 1097.01" y="618" font-size="14.72" stroke="#000" stroke-width="0.09"><tspan textLength="10.68" lengthAdjust="spacingAndGlyphs">−</tspan>0.50</text>
<text transform="scale(0.9787,1)" x="887.04 898.73 907.46 912.08 921.08" y="480" font-size="14.72" stroke="#000" stroke-width="0.09"><tspan textLength="10.68" lengthAdjust="spacingAndGlyphs">−</tspan>0.50</text>
<text transform="scale(0.9676,1)" x="1147.99 1159.87 1168.67 1173.24 1182.42" y="618" font-size="14.72" stroke="#000" stroke-width="0.09"><tspan textLength="10.8" lengthAdjust="spacingAndGlyphs">−</tspan>0.25</text>
<text transform="scale(0.9676,1)" x="897.23 909.1 917.91 922.48 931.65" y="418" font-size="14.72" stroke="#000" stroke-width="0.09"><tspan textLength="10.8" lengthAdjust="spacingAndGlyphs">−</tspan>0.25</text>
<text transform="scale(0.9961,1)" x="1191.46 1200.07 1204.64 1213.42" y="618" font-size="14.72" stroke="#000" stroke-width="0.09">0.00</text>
<text transform="scale(0.9961,1)" x="883.53 892.14 896.71 905.5" y="357" font-size="14.72" stroke="#000" stroke-width="0.09">0.00</text>
<text transform="scale(0.9676,1)" x="1299.49 1308.29 1312.86 1322.04" y="618" font-size="14.72" stroke="#000" stroke-width="0.09">0.25</text>
<text transform="scale(0.9676,1)" x="909.68 918.48 923.05 932.23" y="295" font-size="14.72" stroke="#000" stroke-width="0.09">0.25</text>
<text transform="scale(0.9787,1)" x="1356.66 1365.39 1370.02 1379.01" y="618" font-size="14.72" stroke="#000" stroke-width="0.09">0.50</text>
<text transform="scale(0.9787,1)" x="899.3 908.02 912.65 921.65" y="233" font-size="14.72" stroke="#000" stroke-width="0.09">0.50</text>
<text transform="scale(0.9719,1)" x="1438.69 1447.46 1452.16 1461.14" y="618" font-size="14.72" stroke="#000" stroke-width="0.09">0.75</text>
<text transform="scale(0.9719,1)" x="905.63 914.4 919.1 928.08" y="172" font-size="14.72" stroke="#000" stroke-width="0.09">0.75</text>
<text transform="scale(0.9832,1)" x="1493.7 1502.6 1507.25 1516.15" y="618" font-size="14.72" stroke="#000" stroke-width="0.09">1.00</text>
<text transform="scale(0.9832,1)" x="894.39 903.29 907.94 916.84" y="110" font-size="14.72" stroke="#000" stroke-width="0.09">1.00</text>
</svg></body></html>
